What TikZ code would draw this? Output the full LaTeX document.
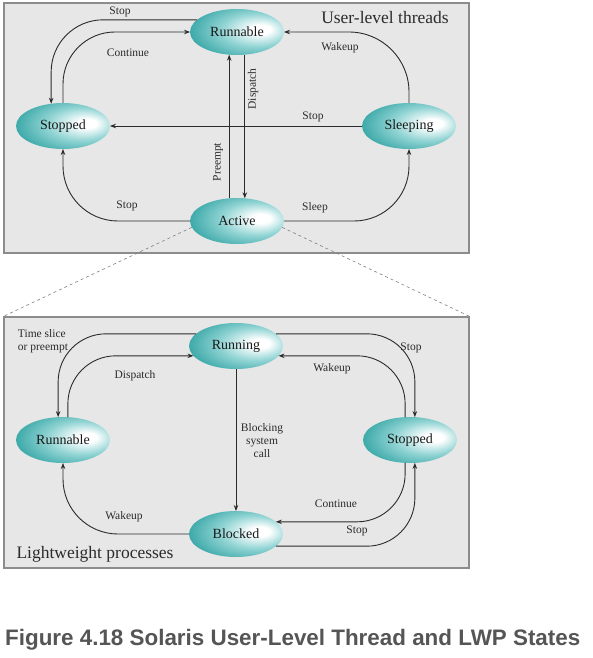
\documentclass[tikz,border=0pt]{standalone}
\usepackage{fontspec}
\setmainfont{Liberation Serif}
\newfontfamily\capfont{Liberation Sans}
\usetikzlibrary{shapes.geometric,arrows.meta}
\definecolor{tealdark}{HTML}{157B7B}
\definecolor{tealedge}{HTML}{1D8F8F}
\definecolor{tealmid}{HTML}{3DA9A9}
\definecolor{tealhi}{HTML}{92D4D4}
\definecolor{panelfill}{HTML}{E7E7E7}
\definecolor{panelline}{HTML}{8C8C8C}
\definecolor{inkgray}{HTML}{2B2B2B}
\definecolor{capgray}{HTML}{555555}
\pgfdeclareradialshading{tealball}{\pgfpoint{14bp}{3bp}}{color(0bp)=(white); color(5bp)=(white); color(18bp)=(tealhi); color(32bp)=(tealmid); color(48bp)=(tealedge); color(62bp)=(tealdark)}
\tikzset{
  state/.style={ellipse, shade, shading=tealball, minimum width=94pt, minimum height=46pt,
    inner sep=0pt, outer sep=0pt, font=\fontsize{14}{16}\selectfont, text=black!90},
  arr/.style={draw=inkgray, line width=0.9pt, -{Stealth[length=6pt,width=4.5pt]}, rounded corners=48pt},
  lbl/.style={font=\fontsize{11.5}{13}\selectfont, text=inkgray, inner sep=0pt},
  panel/.style={draw=panelline, line width=1.2pt, fill=panelfill, inner sep=0pt},
  zoomline/.style={draw=gray, dashed, line width=0.6pt}
}

\begin{document}
\begin{tikzpicture}[x=1pt, y=-1pt]
  \useasboundingbox (0,0) rectangle (592,658);
  \node[panel, minimum width=465pt, minimum height=250pt] (upan) at (236.5,128) {};
  \node[panel, minimum width=465pt, minimum height=251pt] (lpan) at (236.5,442.5) {};

  \node[state] (urun) at (237,32) {Runnable};
  \node[state] (ustop) at (63,126) {Stopped};
  \node[state] (usleep) at (409,126) {Sleeping};
  \node[state] (uact) at (237,221) {Active};

  \draw[zoomline] (uact.188) -- (lpan.north west);
  \draw[zoomline] (uact.352) -- (lpan.north east);

  \draw[arr, rounded corners=52pt] (urun.163) -| (ustop.118);
  \draw[arr, rounded corners=52pt] (ustop.north) |- (urun.west);
  \draw[arr, rounded corners=60pt] (usleep.north) |- (urun.east);
  \draw[arr] (usleep.west) -- (ustop.east);
  \draw[arr, rounded corners=55pt] (uact.west) -| (ustop.south);
  \draw[arr, rounded corners=55pt] (uact.east) -| (usleep.south);
  \draw[arr] (uact.109) -- (urun.251);
  \draw[arr] (urun.289) -- (uact.71);

  \node[lbl] (ls1) at (120,12) {Stop};
  \node[lbl] (lcont) at (128,53) {Continue};
  \node[lbl] (lwake) at (340,48) {Wakeup};
  \node[lbl] (ls2) at (313,117) {Stop};
  \node[lbl] (ls3) at (127,206) {Stop};
  \node[lbl] (lsleep) at (315,208) {Sleep};
  \node[lbl, rotate=90] (lpre) at (218,162) {Preempt};
  \node[lbl, rotate=90] (ldisp) at (253,89) {Dispatch};
  \node[lbl, font=\fontsize{17.5}{20}\selectfont] (utitle) at (385,18) {User-level threads};

  \node[state] (lrun) at (236,346) {Running};
  \node[state] (lrnb) at (63,440) {Runnable};
  \node[state] (lblk) at (236,534) {Blocked};
  \node[state] (lstop) at (410,440) {Stopped};

  \draw[arr, rounded corners=48pt] (lrun.163) -| (lrnb.102);
  \draw[arr, rounded corners=48pt] (lrnb.78) |- (lrun.193);
  \draw[arr] (lrun.south) -- (lblk.north);
  \draw[arr, rounded corners=48pt] (lrun.17) -| (lstop.78);
  \draw[arr, rounded corners=48pt] (lstop.102) |- (lrun.347);
  \draw[arr, rounded corners=48pt] (lstop.258) |- (lblk.17);
  \draw[arr, rounded corners=48pt] (lblk.343) -| (lstop.282);
  \draw[arr, rounded corners=55pt] (lblk.west) -| (lrnb.south);

  \node[lbl, align=left] (lslice) at (43,341) {Time slice\\or preempt};
  \node[lbl] (ldisp2) at (135,376) {Dispatch};
  \node[lbl, align=center] (lblock) at (262,441) {Blocking\\system\\call};
  \node[lbl] (ls4) at (411,348) {Stop};
  \node[lbl] (lwake2) at (332,369) {Wakeup};
  \node[lbl] (lcont2) at (336,504) {Continue};
  \node[lbl] (ls5) at (357,531) {Stop};
  \node[lbl] (lwake3) at (124,517) {Wakeup};
  \node[lbl, font=\fontsize{17.5}{20}\selectfont] (ltitle) at (95,554) {Lightweight processes};

  \node[anchor=base west, inner sep=0pt, text=capgray,
    font=\capfont\bfseries\fontsize{22.4}{25}\selectfont] (cap) at (5,645)
    {Figure 4.18 Solaris User-Level Thread and LWP States};
\end{tikzpicture}
\end{document}
